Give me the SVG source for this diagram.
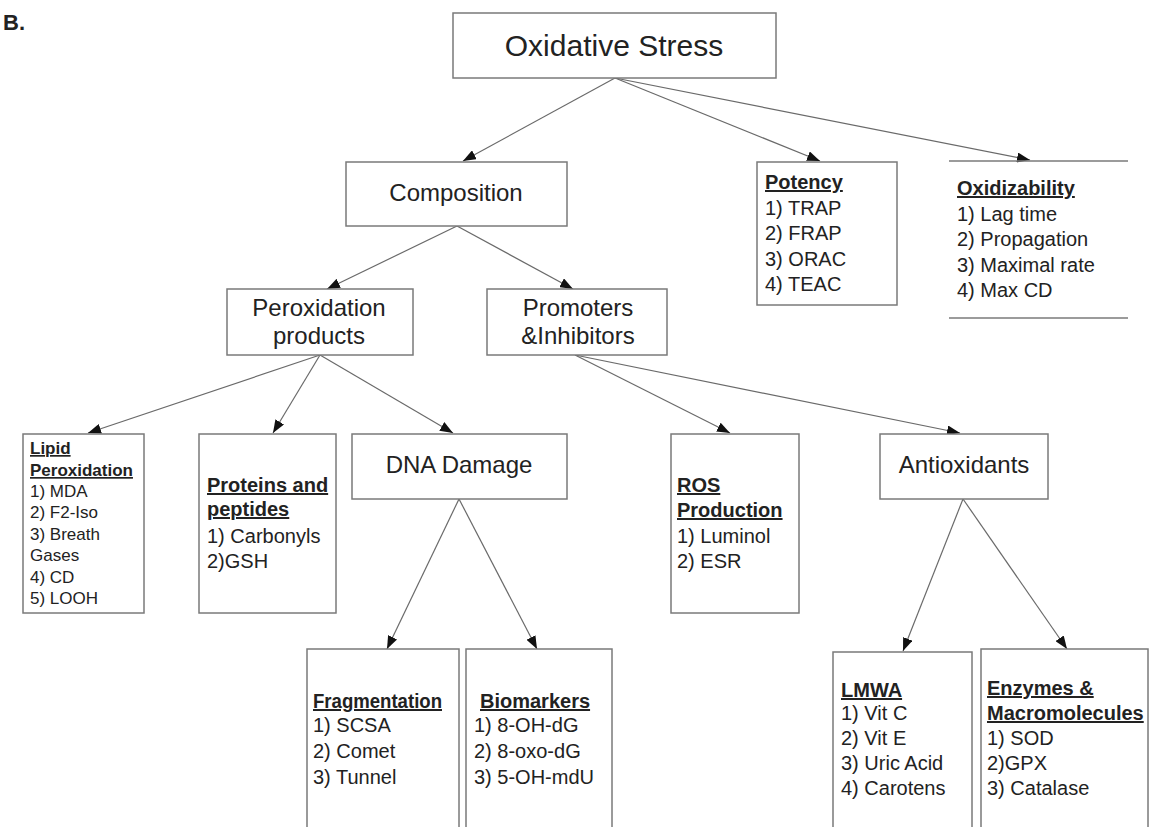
<svg xmlns="http://www.w3.org/2000/svg" width="1153" height="827" viewBox="0 0 1153 827">
<style>
.box{fill:#fff;stroke:#7a7a7a;stroke-width:1.5}
.edge{stroke:#6a6a6a;stroke-width:1.2;fill:none}
text{font-family:"Liberation Sans",Arial,sans-serif;fill:#222}
.big{font-size:30px}
.mid{font-size:24px}
.t{font-size:20px}
.s{font-size:17px}
.h{font-weight:bold;text-decoration:underline}
.c{text-anchor:middle}
</style>
<defs>
<marker id="arr" markerUnits="userSpaceOnUse" markerWidth="14" markerHeight="10" refX="13" refY="5" orient="auto">
<path d="M0,0 L13,5 L0,10 Z" fill="#111"/>
</marker>
</defs>
<rect width="1153" height="827" fill="#fff"/>
<text x="3" y="30" style="font-size:22px;font-weight:bold">B.</text>
<g id="connectors" class="edge" marker-end="url(#arr)">
<line x1="615" y1="78" x2="463" y2="161"/>
<line x1="615" y1="78" x2="820" y2="161"/>
<line x1="615" y1="78" x2="1030" y2="160"/>
<line x1="457" y1="226" x2="327" y2="289"/>
<line x1="457" y1="226" x2="573" y2="289"/>
<line x1="320" y1="355" x2="88" y2="433"/>
<line x1="320" y1="355" x2="273" y2="433"/>
<line x1="320" y1="355" x2="453" y2="433"/>
<line x1="575" y1="355" x2="730" y2="433"/>
<line x1="575" y1="355" x2="960" y2="433"/>
<line x1="459" y1="499" x2="387" y2="649"/>
<line x1="459" y1="499" x2="537" y2="649"/>
<line x1="963" y1="499" x2="903" y2="651"/>
<line x1="963" y1="499" x2="1067" y2="649"/>
</g>
<g id="oxidative-stress">
<rect class="box" x="453" y="13" width="323" height="65"/>
<text class="big c" x="614" y="56">Oxidative Stress</text>
</g>
<g id="composition">
<rect class="box" x="346" y="162" width="221" height="64"/>
<text class="mid c" x="456" y="201">Composition</text>
</g>
<g id="potency">
<rect class="box" x="757" y="162" width="140" height="143"/>
<text class="t h" x="765" y="189">Potency</text>
<text class="t" x="765" y="215">1) TRAP</text>
<text class="t" x="765" y="240">2) FRAP</text>
<text class="t" x="765" y="266">3) ORAC</text>
<text class="t" x="765" y="291">4) TEAC</text>
</g>
<g id="oxidizability">
<line x1="949" y1="161" x2="1128" y2="161" stroke="#7a7a7a" stroke-width="1.5"/>
<line x1="949" y1="318" x2="1128" y2="318" stroke="#7a7a7a" stroke-width="1.5"/>
<text class="t h" x="957" y="195">Oxidizability</text>
<text class="t" x="957" y="221">1) Lag time</text>
<text class="t" x="957" y="246">2) Propagation</text>
<text class="t" x="957" y="272">3) Maximal rate</text>
<text class="t" x="957" y="297">4) Max CD</text>
</g>
<g id="peroxidation-products">
<rect class="box" x="227" y="289" width="186" height="66"/>
<text class="mid c" x="319" y="316">Peroxidation</text>
<text class="mid c" x="319" y="344">products</text>
</g>
<g id="promoters-inhibitors">
<rect class="box" x="487" y="289" width="180" height="66"/>
<text class="mid c" x="578" y="316">Promoters</text>
<text class="mid c" x="578" y="344">&amp;Inhibitors</text>
</g>
<g id="lipid-peroxidation">
<rect class="box" x="23" y="434" width="121" height="179"/>
<text class="s h" x="30" y="454">Lipid</text>
<text class="s h" x="30" y="476">Peroxidation</text>
<text class="s" x="30" y="497">1) MDA</text>
<text class="s" x="30" y="518">2) F2-Iso</text>
<text class="s" x="30" y="540">3) Breath</text>
<text class="s" x="30" y="561">Gases</text>
<text class="s" x="30" y="583">4) CD</text>
<text class="s" x="30" y="604">5) LOOH</text>
</g>
<g id="proteins-peptides">
<rect class="box" x="199" y="434" width="137" height="179"/>
<text class="t h" x="207" y="492">Proteins and</text>
<text class="t h" x="207" y="516">peptides</text>
<text class="t" x="207" y="543">1) Carbonyls</text>
<text class="t" x="207" y="568">2)GSH</text>
</g>
<g id="dna-damage">
<rect class="box" x="352" y="434" width="215" height="65"/>
<text class="mid c" x="459" y="473">DNA Damage</text>
</g>
<g id="ros-production">
<rect class="box" x="671" y="434" width="128" height="179"/>
<text class="t h" x="677" y="492">ROS</text>
<text class="t h" x="677" y="517">Production</text>
<text class="t" x="677" y="543">1) Luminol</text>
<text class="t" x="677" y="568">2) ESR</text>
</g>
<g id="antioxidants">
<rect class="box" x="880" y="434" width="168" height="65"/>
<text class="mid c" x="964" y="473">Antioxidants</text>
</g>
<g id="fragmentation">
<rect class="box" x="307" y="649" width="152" height="200"/>
<text class="t h" x="313" y="708" textLength="129" lengthAdjust="spacingAndGlyphs">Fragmentation</text>
<text class="t" x="313" y="732">1) SCSA</text>
<text class="t" x="313" y="758">2) Comet</text>
<text class="t" x="313" y="784">3) Tunnel</text>
</g>
<g id="biomarkers">
<rect class="box" x="466" y="649" width="146" height="200"/>
<text class="t h" x="480" y="708">Biomarkers</text>
<text class="t" x="474" y="732">1) 8-OH-dG</text>
<text class="t" x="474" y="758">2) 8-oxo-dG</text>
<text class="t" x="474" y="784">3) 5-OH-mdU</text>
</g>
<g id="lmwa">
<rect class="box" x="833" y="652" width="139" height="200"/>
<text class="t h" x="841" y="697">LMWA</text>
<text class="t" x="841" y="720">1) Vit C</text>
<text class="t" x="841" y="745">2) Vit E</text>
<text class="t" x="841" y="770">3) Uric Acid</text>
<text class="t" x="841" y="795">4) Carotens</text>
</g>
<g id="enzymes-macromolecules">
<rect class="box" x="981" y="649" width="167" height="200"/>
<text class="t h" x="987" y="695">Enzymes &amp;</text>
<text class="t h" x="987" y="720">Macromolecules</text>
<text class="t" x="987" y="745">1) SOD</text>
<text class="t" x="987" y="770">2)GPX</text>
<text class="t" x="987" y="795">3) Catalase</text>
</g>
</svg>
